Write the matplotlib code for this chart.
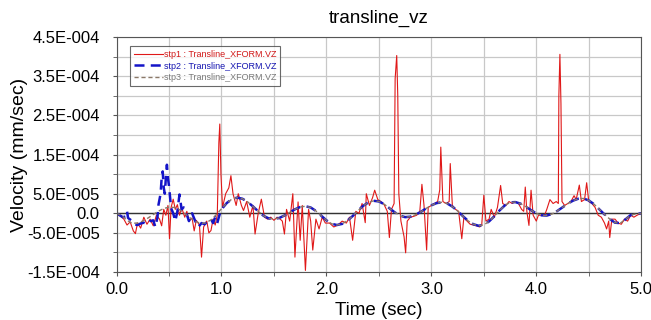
import numpy as np
import matplotlib.pyplot as plt
from matplotlib.ticker import FixedLocator, MultipleLocator

plt.rcParams['font.family'] = ['Liberation Sans', 'DejaVu Sans']

# values in units of 1e-5 mm/sec
# stp3: smooth response, every 0.05 s
stp3_t = np.round(np.arange(0, 5.001, 0.05), 3)
stp3_v = [0.0, -0.57, -1.8, -2.58, -2.47, -1.99, -1.21, -0.33, 0.55, 1.22,
          1.57, 1.50, 0.91, -0.06, -1.15, -2.08, -2.56, -2.47, -1.68, -0.36,
          1.16, 2.61, 3.64, 4.0, 3.71, 2.9, 1.74, 0.5, -0.62, -1.31,
          -1.5, -1.2, -0.58, 0.23, 1.01, 1.6, 1.8, 1.48, 0.6, -0.6,
          -1.8, -2.68, -3.0, -2.71, -1.88, -0.71, 0.64, 1.9, 2.78, 3.19,
          3.02, 2.33, 1.31, 0.26, -0.6, -0.99, -0.87, -0.38, 0.37, 1.24,
          2.04, 2.6, 2.8, 2.52, 1.72, 0.58, -0.72, -1.94, -2.8, -3.19,
          -2.97, -2.07, -0.76, 0.73, 2.01, 2.78, 2.86, 2.46, 1.69, 0.8,
          -0.04, -0.52, -0.58, -0.18, 0.59, 1.51, 2.44, 3.23, 3.71, 3.79,
          3.27, 2.32, 1.03, -0.29, -1.48, -2.4, -2.52, -1.54, -0.45, -0.2, 0.0]

# stp2: noisy during first second, then on top of stp3
stp2_t_early = [0.00, 0.03, 0.06, 0.09, 0.10, 0.11, 0.14, 0.17, 0.20, 0.23,
                0.26, 0.29, 0.32, 0.35, 0.37, 0.39, 0.40, 0.42, 0.43, 0.44,
                0.45, 0.46, 0.47, 0.48, 0.49, 0.50, 0.52, 0.54, 0.56, 0.58,
                0.59, 0.60, 0.62, 0.64, 0.66, 0.69, 0.72, 0.75, 0.78, 0.81,
                0.84, 0.87, 0.90, 0.92, 0.94, 0.96, 0.98, 1.00]
stp2_v_early = [0.0, -0.5, -1.0, -0.8, 0.5, -1.2, -1.8, -2.8, -3.0, -2.6,
                -2.4, -2.8, -2.0, -1.8, -3.5, -1.0, 2.2, 5.0, 9.0, 10.7,
                6.5, 5.0, 9.0, 12.4, 9.0, 7.0, 1.3, 0.0, -2.0, 0.5,
                2.6, 4.8, 1.0, 1.5, 0.5, -2.0, 0.0, -2.0, -3.5, -2.5,
                -2.8, -2.0, -1.5, -2.5, -1.0, -2.5, -0.5, 1.0]

# stp1: spiky response
stp1_t = [0.00, 0.04, 0.07, 0.10, 0.13, 0.16, 0.18, 0.20, 0.23, 0.26,
          0.29, 0.32, 0.35, 0.38, 0.41, 0.43, 0.45, 0.47, 0.49, 0.505,
          0.52, 0.54, 0.56, 0.58, 0.60, 0.62, 0.65, 0.67, 0.69, 0.72,
          0.74, 0.76, 0.79, 0.81, 0.83, 0.86, 0.88, 0.90, 0.92, 0.94,
          0.96, 0.975, 0.984, 0.995, 1.01, 1.04, 1.07, 1.09, 1.11, 1.14,
          1.16, 1.19, 1.21, 1.24, 1.27, 1.30, 1.32, 1.35, 1.38, 1.41,
          1.44, 1.47, 1.50, 1.53, 1.56, 1.58, 1.60, 1.62, 1.65, 1.68,
          1.70, 1.73, 1.75, 1.77, 1.80, 1.83, 1.85, 1.87, 1.90, 1.93,
          1.96, 1.99, 2.03, 2.07, 2.11, 2.15, 2.19, 2.22, 2.25, 2.28,
          2.31, 2.34, 2.37, 2.38, 2.41, 2.44, 2.46, 2.49, 2.52, 2.55,
          2.58, 2.60, 2.62, 2.645, 2.655, 2.67, 2.68, 2.69, 2.71, 2.74,
          2.755, 2.77, 2.80, 2.83, 2.86, 2.89, 2.91, 2.93, 2.955, 2.97,
          3.00, 3.03, 3.06, 3.08, 3.09, 3.11, 3.14, 3.17, 3.18, 3.20,
          3.23, 3.26, 3.29, 3.31, 3.34, 3.37, 3.40, 3.43, 3.46, 3.48,
          3.50, 3.52, 3.55, 3.57, 3.60, 3.63, 3.66, 3.68, 3.71, 3.74,
          3.77, 3.80, 3.83, 3.86, 3.88, 3.895, 3.91, 3.93, 3.95, 3.97,
          4.00, 4.02, 4.05, 4.08, 4.10, 4.13, 4.16, 4.19, 4.21, 4.215,
          4.225, 4.235, 4.245, 4.27, 4.30, 4.33, 4.36, 4.38, 4.41, 4.43,
          4.46, 4.48, 4.50, 4.53, 4.56, 4.59, 4.62, 4.65, 4.67, 4.69,
          4.70, 4.72, 4.75, 4.78, 4.81, 4.84, 4.87, 4.90, 4.93, 4.96, 5.00]
stp1_v = [0.0, -0.8, -1.5, -3.0, -2.2, -4.5, -5.2, -2.5, -3.8, -1.0,
          -2.8, -1.5, -3.2, -0.5, -1.5, -3.2, 1.0, -0.5, 2.0, -6.5,
          1.5, 3.6, 1.0, 2.2, -0.5, 1.5, -1.0, 0.5, -2.0, -1.2,
          -4.5, -1.8, -3.0, -11.2, -3.5, -2.0, -5.0, -4.4, -1.5, -3.0,
          -0.5, 18.0, 22.8, 10.0, 1.5, 5.0, 6.5, 9.6, 5.0, 2.0,
          5.0, 2.0, 0.7, 3.0, -1.0, 2.0, -5.3, 0.0, 3.6, -1.0,
          -1.5, -1.0, -1.8, -1.0, -1.5, -2.0, -5.3, 1.0, -2.0, 5.0,
          -11.2, 2.9, -6.9, 2.0, -14.6, 1.0, -2.0, -9.4, -1.5, -4.0,
          -1.0, -2.5, -2.5, -3.5, -3.0, -2.0, -2.5, -1.0, -6.9, 0.5,
          0.0, 2.5, -2.4, 5.0, 2.0, 4.0, 5.9, 3.5, 3.0, 2.2,
          0.5, -6.2, 1.0, 2.5, 34.4, 40.3, 30.0, 5.0, -2.0, -6.0,
          -10.1, -2.0, -1.0, -0.8, -0.5, 0.5, 7.4, 2.0, -9.4, 1.5,
          2.0, 2.5, 3.0, 6.0, 16.9, 3.0, 2.5, 3.0, 12.7, 2.0,
          1.0, 0.5, -6.5, -1.0, -2.0, -2.8, -3.0, -3.2, -3.5, -3.0,
          4.6, -2.0, -1.5, 1.0, -1.0, 1.5, 7.1, 2.5, 2.0, 3.0,
          2.5, 3.0, 2.5, 1.0, 0.5, 6.7, 0.5, -3.1, 5.9, -0.5,
          -2.0, -0.5, -0.5, -0.4, 1.0, 3.5, 2.5, 3.0, 2.5, 30.0,
          40.6, 28.0, 3.0, 2.0, 2.5, 3.0, 4.5, 3.5, 7.2, 3.0,
          3.5, 7.8, 3.0, 2.5, 1.5, -0.5, -1.0, -2.5, -4.0, -2.0,
          -6.2, -1.5, -1.5, -2.5, -2.8, -1.5, -2.0, -0.5, -1.0, -0.5, 0.0]

scale = 1e-5
late = stp3_t > 1.0
stp2_t = np.concatenate([stp2_t_early, stp3_t[late]])
stp2_v = np.concatenate([stp2_v_early, np.array(stp3_v)[late]])

y_ticks = [4.5e-4, 3.5e-4, 2.5e-4, 1.5e-4, 5.0e-5, 0.0, -5.0e-5, -1.5e-4]
y_labels = ['4.5E-004', '3.5E-004', '2.5E-004', '1.5E-004', '5.0E-005',
            '0.0', '-5.0E-005', '-1.5E-004']
x_ticks = [0.0, 1.0, 2.0, 3.0, 4.0, 5.0]

fig = plt.figure(figsize=(6.51, 3.20), dpi=100)
ax = fig.add_axes([0.179, 0.15, 0.806, 0.734])

ax.plot(stp1_t, np.array(stp1_v) * scale, color='#e01818', lw=0.8,
        label='stp1 : Transline_XFORM.VZ')
ax.plot(stp2_t, stp2_v * scale, color='#1414c8', lw=1.8, ls=(0, (4, 2.5)),
        label='stp2 : Transline_XFORM.VZ')
ax.plot(stp3_t, np.array(stp3_v) * scale, color='#8a7868', lw=1.0,
        ls=(0, (3, 2)), label='stp3 : Transline_XFORM.VZ')
ax.axhline(0, color='#333333', lw=1.0, zorder=1.5)

ax.set_xlim(0, 5)
ax.set_ylim(-1.5e-4, 4.5e-4)
ax.set_xticks(x_ticks)
ax.set_xticklabels(['%.1f' % v for v in x_ticks])
ax.xaxis.set_minor_locator(MultipleLocator(0.5))
ax.yaxis.set_major_locator(FixedLocator(y_ticks))
ax.set_yticklabels(y_labels)
ax.yaxis.set_minor_locator(MultipleLocator(5e-5))
ax.grid(True, which='both', color='#c8c8c8', lw=0.9)
ax.set_axisbelow(True)
ax.tick_params(axis='both', which='major', labelsize=12, length=3,
               color='#555555')
ax.tick_params(axis='y', which='major', pad=9)
ax.tick_params(axis='x', which='major', pad=4)
ax.tick_params(axis='both', which='minor', length=3, color='#555555')
for s in ax.spines.values():
    s.set_color('#555555')

ax.set_title('transline_vz', fontsize=13.5, pad=10)
ax.set_xlabel('Time (sec)', fontsize=13.5, labelpad=4)
ax.set_ylabel('Velocity (mm/sec)', fontsize=14)
ax.yaxis.set_label_coords(-0.168, 0.5)

leg = ax.legend(loc='upper left', bbox_to_anchor=(0.017, 0.98), fontsize=6.5,
                frameon=True, fancybox=False, handlelength=3.2,
                handletextpad=0.1, borderpad=0.45, labelspacing=0.25)
leg.get_frame().set_edgecolor('#444444')
leg.get_frame().set_linewidth(0.8)
for txt, c in zip(leg.get_texts(), ['#d01818', '#1414b0', '#777777']):
    txt.set_color(c)

fig.savefig('out.png', dpi=100)
